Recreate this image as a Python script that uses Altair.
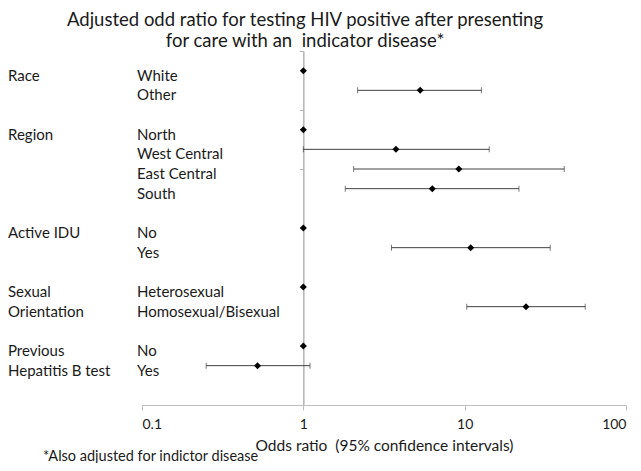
import altair as alt
import pandas as pd

# ---- data ----
group_names = [["Race"], ["Region"], ["Active IDU"], ["Sexual", "Orientation"], ["Previous", "Hepatitis B test"]]
group_levels = [["White", "Other"],
                ["North", "West Central", "East Central", "South"],
                ["No", "Yes"],
                ["Heterosexual", "Homosexual/Bisexual"],
                ["No", "Yes"]]
odds_ratio = [[1.0, 5.3], [1.0, 3.75, 9.2, 6.3], [1.0, 10.9], [1.0, 24.0], [1.0, 0.52]]
ci_low = [[None, 2.17], [None, 1.0, 2.05, 1.82], [None, 3.52], [None, 10.3], [None, 0.25]]
ci_high = [[None, 12.7], [None, 14.2, 41.4, 21.7], [None, 33.9], [None, 55.9], [None, 1.1]]
x_ticks = [0.1, 1, 10, 100]

title_lines = ["Adjusted odd ratio for testing HIV positive after presenting",
               "for care with an\u00a0 indicator disease*"]
x_title = "Odds ratio\u00a0 (95% confidence intervals)"
footnote = "*Also adjusted for indictor disease"

# ---- build tables ----
rows, glabels = [], []
r = 0
for names, levels, ors, los, his in zip(group_names, group_levels, odds_ratio, ci_low, ci_high):
    for k, nm in enumerate(names):
        glabels.append({"row": r + k, "label": nm})
    for lev, o, lo, hi in zip(levels, ors, los, his):
        rows.append({"row": r, "level": lev, "or": o, "lo": lo, "hi": hi})
        r += 1
    r += 1
last_row = r
df = pd.DataFrame(rows)
gdf = pd.DataFrame(glabels)

FONT = "Lato"
TXT = "#1a1a1a"
W, H = 484, 354

xs = alt.Scale(type="log", domain=[0.1, 100], nice=False)
ys = alt.Scale(domain=[-1, last_row], reverse=True, nice=False, zero=False)

base = alt.Chart(df)

x_axis = alt.Axis(values=x_ticks, format="~g", grid=False, domainColor="#bfbfbf",
                  tickColor="#bfbfbf", tickSize=5, labelFont=FONT, labelFontSize=14,
                  labelColor=TXT, labelPadding=7, title=x_title, titleFont=FONT,
                  titleFontSize=15.5, titleFontWeight="normal", titleColor=TXT, titlePadding=7)
y_axis = alt.Axis(values=list(range(-1, last_row, 3)), labels=False, grid=False, title=None,
                  domainColor="#b3b3b3", domainWidth=1.5, tickColor="#b3b3b3", tickSize=4,
                  offset=-W / 3)

axes = base.mark_point(opacity=0).encode(
    x=alt.X("or:Q", scale=xs, axis=x_axis),
    y=alt.Y("row:Q", scale=ys, axis=y_axis),
)

valid = "isValid(datum.lo) && datum.lo !== null"
bars = base.transform_filter(valid).mark_rule(color="#404040", strokeWidth=1).encode(
    x=alt.X("lo:Q", scale=xs), x2="hi:Q", y=alt.Y("row:Q", scale=ys))
cap_lo = base.transform_filter(valid).mark_tick(orient="vertical", size=6, thickness=1, color="#404040").encode(
    x=alt.X("lo:Q", scale=xs), y=alt.Y("row:Q", scale=ys))
cap_hi = base.transform_filter(valid).mark_tick(orient="vertical", size=6, thickness=1, color="#404040").encode(
    x=alt.X("hi:Q", scale=xs), y=alt.Y("row:Q", scale=ys))
pts = base.mark_point(shape="diamond", filled=True, size=50, color="black", opacity=1).encode(
    x=alt.X("or:Q", scale=xs), y=alt.Y("row:Q", scale=ys))

lev_text = base.mark_text(align="left", baseline="middle", dy=5, font=FONT, fontSize=15, color=TXT).encode(
    x=alt.value(-5), y=alt.Y("row:Q", scale=ys), text="level:N")
grp_text = alt.Chart(gdf).mark_text(align="left", baseline="middle", dy=5, font=FONT, fontSize=15, color=TXT).encode(
    x=alt.value(-134), y=alt.Y("row:Q", scale=ys), text="label:N")
foot = alt.Chart(pd.DataFrame({"t": [footnote]})).mark_text(
    align="left", baseline="middle", font=FONT, fontSize=14.5, color=TXT).encode(
    x=alt.value(-99), y=alt.value(405.5), text="t:N")

chart = alt.layer(axes, bars, cap_lo, cap_hi, pts, lev_text, grp_text, foot).properties(
    width=W, height=H,
    padding={"left": 134, "top": 43, "right": 7, "bottom": 58},
    autosize=alt.AutoSizeParams(type="none"),
    title=alt.TitleParams(text=title_lines, font=FONT, fontSize=18.5, fontWeight="normal",
                          color=TXT, anchor="middle", dx=-79, offset=0, lineHeight=21),
).configure_view(stroke=None)

chart.save("out.html", embed_options={"renderer": "svg", "actions": False})
